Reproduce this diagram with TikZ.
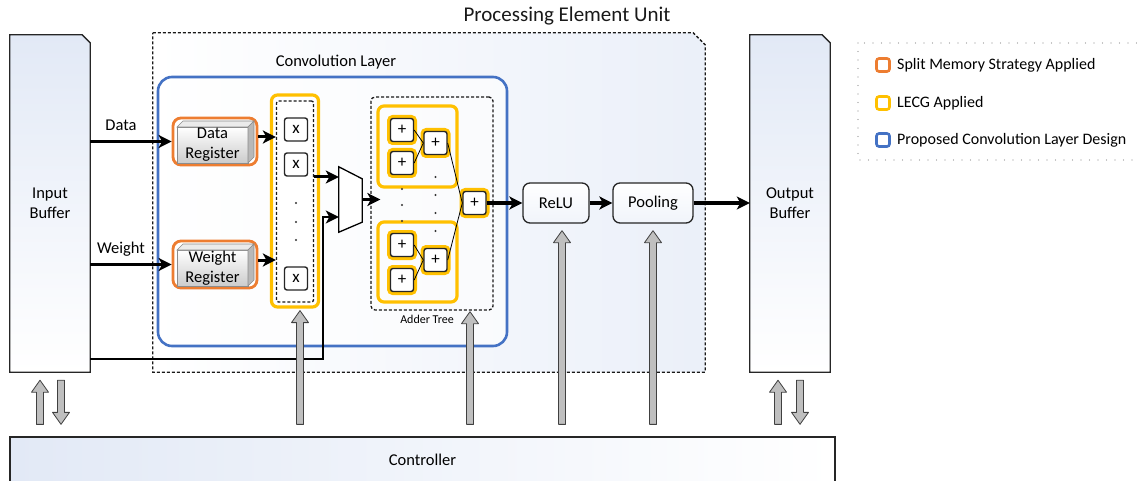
\documentclass[tikz,border=0pt]{standalone}
\usepackage{fontspec}
\setmainfont{Carlito}
\usetikzlibrary{arrows.meta,calc}
\definecolor{smsC}{HTML}{ED7D31}
\definecolor{lecgC}{HTML}{FFC000}
\definecolor{convC}{HTML}{4472C4}
\definecolor{bgblue}{HTML}{E2E9F6}
\newcommand\fntMain{\fontsize{16.5}{20}\selectfont}
\newcommand\fntTitle{\fontsize{21}{24}\selectfont}
\newcommand\fntLeg{\fontsize{16}{19}\selectfont}
\newcommand\fntSmall{\fontsize{12}{14}\selectfont}
\newcommand\fntOp{\fontsize{17}{19}\selectfont}
\newcommand\garrowup[2]{% #1 tip, #2 base
  \filldraw[garrow] let \p1=(#1), \p2=(#2) in
   (\x1-3.5pt,\y2) -- (\x1-3.5pt,\y1-12pt) -- (\x1-8.5pt,\y1-12pt) -- (\x1,\y1)
   -- (\x1+8.5pt,\y1-12pt) -- (\x1+3.5pt,\y1-12pt) -- (\x1+3.5pt,\y2) -- cycle;}
\newcommand\garrowdown[2]{% #1 tip, #2 base
  \filldraw[garrow] let \p1=(#1), \p2=(#2) in
   (\x1-3.5pt,\y2) -- (\x1-3.5pt,\y1+12pt) -- (\x1-8.5pt,\y1+12pt) -- (\x1,\y1)
   -- (\x1+8.5pt,\y1+12pt) -- (\x1+3.5pt,\y1+12pt) -- (\x1+3.5pt,\y2) -- cycle;}
\begin{document}
\begin{tikzpicture}[x=1pt,y=-1pt,font=\fntMain,
  arr/.style={line width=3pt,-{Stealth[length=13pt,width=13pt,inset=3.5pt]}},
  wire/.style={line width=2pt},
  garrow/.style={fill=black!25,draw=black!75,line width=0.8pt,line join=round},
  bufbox/.style={minimum width=80pt,minimum height=337pt,inner sep=0pt},
  bufshape/.style={draw=black!85,line width=1.3pt,top color=bgblue,bottom color=white},
  dashbox/.style={draw=black!90,line width=1.3pt,dash pattern=on 3pt off 2pt},
  lecg/.style={draw=lecgC,line width=3.2pt,rounded corners=6pt},
  reg/.style={draw=smsC,line width=2.8pt,rounded corners=8pt,fill=white,minimum width=84pt,minimum height=47pt,inner sep=0pt},
  opbox/.style={draw=black!85,line width=1.4pt,rounded corners=2.5pt,fill=white,minimum size=23pt,inner sep=0pt,font=\fntOp},
  plusbox/.style={opbox,preaction={draw=lecgC,line width=7pt,rounded corners=4pt}},
  stage/.style={draw=black!85,line width=1.3pt,rounded corners=7pt,top color=white,bottom color=bgblue!50,minimum height=40pt,inner sep=0pt},
  legsq/.style={line width=2.6pt,rounded corners=2.5pt,fill=white,minimum size=13pt,inner sep=0pt},
  tdot/.style={circle,fill=black!80,inner sep=0pt,minimum size=2.2pt}]
\useasboundingbox (0,0) rectangle (1137,481);

% Processing element unit
\node[minimum width=552pt,minimum height=339pt,inner sep=0pt] (pe) at (429,202.5) {};
\path[left color=white,right color=bgblue!70] (pe.north west) -- ($(pe.north east)+(-12,0)$) -- ($(pe.north east)+(0,12)$) -- (pe.south east) -- (pe.south west) -- cycle;
\draw[dashbox] (pe.north west) -- ($(pe.north east)+(-12,0)$) -- ($(pe.north east)+(0,12)$) -- (pe.south east) -- (pe.south west) -- cycle;
\node[font=\fntTitle,text=black!90] (pelabel) at (567,16) {Processing Element Unit};

% Buffers
\node[bufbox] (inbuf) at (50,203.5) {};
\draw[bufshape] (inbuf.north west) -- ($(inbuf.north east)+(-8,0)$) -- ($(inbuf.north east)+(0,8)$) -- (inbuf.south east) -- (inbuf.south west) -- cycle;
\node[align=center] (inbuftxt) at (inbuf.center) {Input\\Buffer};
\node[bufbox] (outbuf) at (790,203.5) {};
\draw[bufshape] (outbuf.north west) -- ($(outbuf.north east)+(-8,0)$) -- ($(outbuf.north east)+(0,8)$) -- (outbuf.south east) -- (outbuf.south west) -- cycle;
\node[align=center] (outbuftxt) at (outbuf.center) {Output\\Buffer};

% Convolution layer
\node[draw=convC,line width=2.6pt,rounded corners=14pt,fill=white,fill opacity=0.6,minimum width=349pt,minimum height=269pt,inner sep=0pt] (conv) at (332.5,211.5) {};
\node (convlabel) at (336,62) {Convolution Layer};

% Registers
\node[reg] (datareg) at (215,141.5) {};
\node[reg] (weightreg) at (215,264.5) {};
\foreach \dy in {0,123}{
\begin{scope}[shift={(0,\dy)}]
  \draw[draw=black!45,line width=0.6pt,top color=white,bottom color=black!20] (177,127) rectangle (248,163);
  \draw[draw=black!45,line width=0.6pt,fill=black!8] (177,127) -- (183,121) -- (254,121) -- (248,127) -- cycle;
  \draw[draw=black!45,line width=0.6pt,fill=black!28] (248,127) -- (254,121) -- (254,157) -- (248,163) -- cycle;
\end{scope}}
\node[align=center,inner sep=0pt] (dtxt) at (212.5,145) {Data\\Register};
\node[align=center,inner sep=0pt] (wtxt) at (212.5,268) {Weight\\Register};

% Multiplier column
\node[lecg,fill=white,minimum width=47pt,minimum height=212pt,inner sep=0pt] (multcol) at (295,201) {};
\node[dashbox,rounded corners=2pt,minimum width=37pt,minimum height=201pt,inner sep=0pt] (multin) at (295,201.5) {};
\node[opbox] (x1) at (296,129.5) {x};
\node[opbox] (x2) at (296,164.5) {x};
\node[opbox] (x3) at (296,278.5) {x};
\node[tdot] (md1) at (296,203) {};
\node[tdot] (md2) at (296,222) {};
\node[tdot] (md3) at (296,240) {};

% Mux
\node[minimum width=23pt,minimum height=65pt,inner sep=0pt] (mux) at (350.5,199.5) {};
\draw[line width=1.3pt,fill=white] (mux.north west) -- ($(mux.north east)+(0,12)$) -- ($(mux.south east)+(0,-10)$) -- (mux.south west) -- cycle;

% Adder tree
\node[dashbox,rounded corners=4pt,minimum width=122pt,minimum height=213pt,inner sep=0pt] (adder) at (432,203.5) {};
\node[font=\fntSmall] (addlabel) at (427,319) {Adder Tree};
\node[lecg,minimum width=79pt,minimum height=81pt,inner sep=0pt] (ag1) at (417.5,146.5) {};
\node[lecg,minimum width=79pt,minimum height=80pt,inner sep=0pt] (ag2) at (417.5,262) {};
\node[plusbox] (p1) at (402,130) {+};
\node[plusbox] (p2) at (402,163) {+};
\node[plusbox] (q1) at (435.5,143) {+};
\node[plusbox] (p3) at (402,245) {+};
\node[plusbox] (p4) at (402,280) {+};
\node[plusbox] (q2) at (435.5,260) {+};
\node[plusbox] (fin) at (474.5,203) {+};
\draw[line width=0.8pt] (p1.east) -- (q1.west);
\draw[line width=0.8pt] (p2.east) -- (q1.west);
\draw[line width=0.8pt] (p3.east) -- (q2.west);
\draw[line width=0.8pt] (p4.east) -- (q2.west);
\draw[line width=0.8pt] (q1.east) -- (fin.west);
\draw[line width=0.8pt] (q2.east) -- (fin.west);
\foreach \yy [count=\i] in {189,205,221}{\node[tdot] (ad\i) at (402,\yy) {};}
\foreach \yy [count=\i] in {177,195,213,231}{\node[tdot] (bd\i) at (435.5,\yy) {};}

% ReLU and Pooling
\node[stage,minimum width=66pt] (relu) at (556,203) {ReLU};
\node[stage,minimum width=80pt] (pool) at (653,203) {Pooling};

% Controller
\node[draw=black!85,line width=1.3pt,left color=bgblue,right color=white,minimum width=825pt,minimum height=46pt,inner sep=0pt] (ctrl) at (422.5,460) {Controller};

% Data path connectors
\draw[arr] (inbuf.east |- datareg.west) -- (datareg.west);
\node (datalabel) at (121,125) {Data};
\draw[arr] (inbuf.east |- weightreg.west) -- (weightreg.west);
\node (weightlabel) at (121,249) {Weight};
\coordinate (dr) at ($(datareg.east)+(0,-4.5)$);
\coordinate (wr) at ($(weightreg.east)+(0,-4.5)$);
\draw[arr] (dr) -- (dr -| multin.west);
\draw[arr] (wr) -- (wr -| multin.west);
\coordinate (m1) at (0,177);
\coordinate (m2) at (0,217);
\coordinate (wc) at (323,359);
\draw[arr] (multin.east |- m1) -- (mux.west |- m1);
\draw[wire,-{Stealth[length=13pt,width=13pt,inset=3.5pt]}] (inbuf.east |- wc) -- (wc) |- (mux.west |- m2);
\draw[arr] (mux.east) -- ($(mux.east -| adder.west)+(10,0)$);
\draw[arr] (fin.east) -- (relu.west);
\draw[arr] (relu.east) -- (pool.west);
\draw[arr] (pool.east) -- (outbuf.west |- pool.east);

% Control arrows
\coordinate (cbase) at ($(ctrl.north)+(0,-12)$);
\coordinate (tm) at ($(multcol.south)+(5,2)$);
\coordinate (ta) at ($(adder.south)+(38,1)$);
\coordinate (tr) at ($(relu.south)+(6,7)$);
\coordinate (tp) at ($(pool.south)+(0,7)$);
\garrowup{tm}{tm |- cbase}
\garrowup{ta}{ta |- cbase}
\garrowup{tr}{tr |- cbase}
\garrowup{tp}{tp |- cbase}
\coordinate (iu) at ($(inbuf.south)+(-10,8)$);
\coordinate (id) at ($(inbuf.south)+(11,8)$);
\coordinate (ou) at ($(outbuf.south)+(-12,8)$);
\coordinate (od) at ($(outbuf.south)+(10,8)$);
\garrowup{iu}{iu |- cbase}
\garrowdown{id |- cbase}{id}
\garrowup{ou}{ou |- cbase}
\garrowdown{od |- cbase}{od}

% Legend
\draw[draw=black!45,line width=1.4pt,dash pattern=on 0pt off 8.5pt,line cap=round] (858,43) rectangle (1165,160);
\node[legsq,draw=smsC] (l1) at (883,65) {};
\node[legsq,draw=lecgC] (l2) at (883,103) {};
\node[legsq,draw=convC] (l3) at (883,140) {};
\node[anchor=west,font=\fntLeg,inner sep=0pt] (l1t) at (897,65) {Split Memory Strategy Applied};
\node[anchor=west,font=\fntLeg,inner sep=0pt] (l2t) at (897,103) {LECG Applied};
\node[anchor=west,font=\fntLeg,inner sep=0pt] (l3t) at (897,140) {Proposed Convolution Layer Design};
\end{tikzpicture}
\end{document}
